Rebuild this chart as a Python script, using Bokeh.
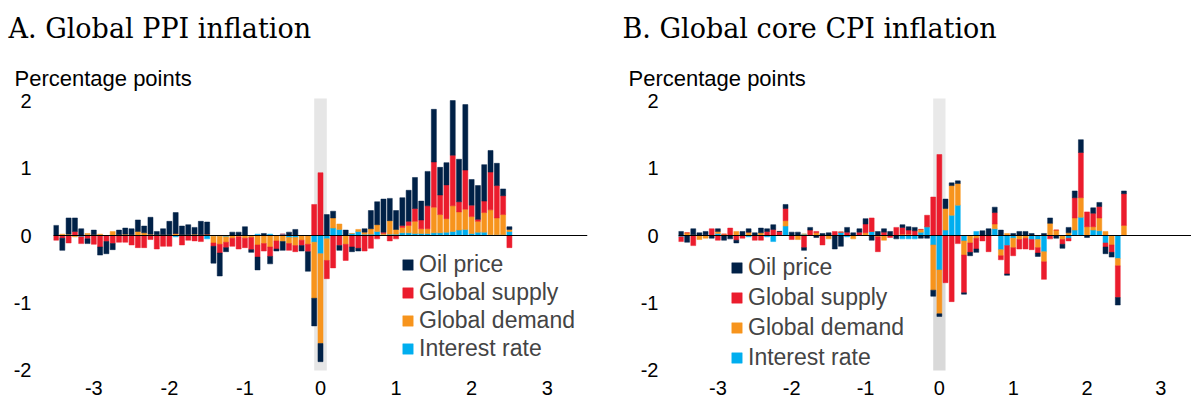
from bokeh.plotting import figure
from bokeh.models import Span, Legend, LegendItem, Title, FixedTicker
from bokeh.layouts import row
from bokeh.embed import file_html
from bokeh.resources import INLINE

months = list(range(-42, 31))
x_ticks = [-3, -2, -1, 0, 1, 2, 3]
y_ticks = [-2, -1, 0, 1, 2]
series_names = ["Oil price", "Global supply", "Global demand", "Interest rate"]

# Panel A: Global PPI inflation (percentage points), months -42..30
ppi_oil = [
    0.15, -0.18, 0.24, 0.20, 0.10, -0.07, 0.07, -0.12, -0.18, -0.09,
    0.07, 0.09, 0.09, 0.17, 0.10, 0.25, 0.05, 0.09, 0.20, 0.31,
    0.13, 0.15, 0.10, 0.20, 0.18, -0.25, -0.34, -0.06, 0.05, 0.05,
    0.13, -0.04, -0.19, 0.03, -0.11, -0.03, -0.13, 0.05, 0.09, -0.08,
    -0.29, -0.41, -0.27, 0.31, 0.10, -0.07, 0.08, -0.07, -0.04, 0.05,
    0.27, 0.34, 0.49, 0.33, 0.28, 0.41, 0.46, 0.46, 0.28, 0.51,
    0.78, 0.41, 0.33, 0.81, 0.63, 0.97, 0.38, 0.50, 0.54, 0.32,
    0.33, 0.10, 0.04]
ppi_supply = [
    -0.07, -0.04, -0.11, 0.06, -0.10, -0.05, -0.13, -0.17, -0.09, -0.12,
    -0.10, -0.10, -0.14, -0.18, -0.18, -0.06, -0.20, -0.16, -0.16, 0.00,
    -0.14, -0.07, -0.08, -0.09, 0.00, -0.05, -0.13, -0.08, -0.12, -0.18,
    -0.14, -0.18, -0.18, -0.11, -0.14, -0.12, 0.00, -0.10, -0.09, -0.08,
    -0.11, 0.46, 0.93, -0.27, -0.48, -0.15, -0.24, -0.17, -0.19, -0.23,
    -0.19, -0.05, 0.02, -0.08, -0.05, 0.03, 0.06, 0.19, 0.13, 0.34,
    0.67, 0.29, 0.50, 0.75, 0.15, 0.58, 0.17, 0.03, 0.17, 0.56,
    0.48, 0.28, -0.18]
ppi_demand = [
    0.00, 0.02, 0.02, -0.02, 0.00, 0.02, 0.01, 0.02, 0.00, 0.06,
    0.01, 0.02, 0.01, 0.06, 0.04, 0.02, 0.01, 0.01, 0.01, 0.03,
    0.01, 0.01, 0.02, 0.01, 0.02, -0.10, -0.12, -0.08, -0.04, -0.02,
    -0.04, -0.03, -0.14, -0.12, -0.17, -0.08, -0.09, -0.09, -0.12, -0.07,
    -0.13, -0.83, -1.33, -0.32, 0.15, 0.08, -0.13, 0.00, 0.03, 0.03,
    0.08, 0.10, 0.02, 0.20, 0.07, 0.08, 0.11, 0.18, 0.07, 0.07,
    0.38, 0.27, 0.20, 0.38, 0.27, 0.30, 0.25, 0.16, 0.29, 0.37,
    0.25, 0.30, 0.03]
ppi_rate = [
    0.00, 0.00, 0.00, 0.00, -0.02, 0.01, 0.00, 0.00, 0.00, 0.00,
    0.00, 0.00, 0.00, 0.00, 0.00, 0.00, 0.00, 0.00, 0.00, -0.02,
    0.00, 0.00, 0.00, 0.00, -0.05, -0.01, -0.01, -0.02, 0.00, 0.00,
    0.00, 0.00, 0.02, 0.00, 0.02, 0.00, 0.02, -0.03, -0.03, 0.00,
    0.00, -0.10, -0.27, -0.05, 0.11, 0.09, 0.00, 0.03, 0.06, 0.02,
    0.02, 0.06, 0.01, 0.02, 0.02, 0.04, 0.04, 0.03, 0.03, 0.03,
    0.04, 0.04, 0.05, 0.06, 0.08, 0.09, 0.03, 0.05, 0.05, 0.01,
    0.01, 0.01, 0.06]

# Panel B: Global core CPI inflation (percentage points), months -42..30
cpi_oil = [
    0.06, -0.10, 0.09, 0.04, 0.05, -0.04, 0.04, -0.07, -0.05, -0.04,
    0.06, 0.05, 0.04, 0.07, 0.04, 0.07, 0.00, 0.06, 0.05, 0.05,
    -0.04, 0.04, -0.03, 0.03, 0.04, -0.20, -0.16, 0.07, 0.04, 0.05,
    0.08, -0.07, 0.06, 0.05, 0.06, -0.05, 0.04, 0.05, 0.05, -0.04,
    -0.04, -0.09, -0.04, 0.14, 0.04, 0.04, -0.02, -0.05, -0.05, 0.07,
    0.10, 0.08, 0.08, -0.02, 0.03, 0.06, 0.06, 0.03, -0.05, 0.03,
    0.08, -0.04, -0.06, 0.08, 0.10, 0.19, -0.03, 0.08, 0.06, -0.10,
    -0.07, -0.11, 0.04]
cpi_supply = [
    -0.07, 0.00, -0.15, 0.00, 0.00, 0.10, -0.07, 0.00, 0.11, -0.07,
    -0.04, 0.00, -0.07, -0.07, 0.06, 0.09, 0.06, 0.18, -0.06, 0.00,
    -0.18, 0.08, 0.02, -0.14, 0.00, 0.06, 0.00, 0.05, 0.00, 0.05,
    0.13, 0.20, -0.22, 0.05, -0.03, 0.12, 0.10, 0.06, 0.07, 0.00,
    0.17, 0.57, 1.20, -0.70, -0.98, -0.12, -0.56, -0.14, -0.16, -0.08,
    -0.24, 0.17, -0.06, -0.42, -0.12, -0.14, -0.16, -0.15, -0.08, -0.26,
    -0.05, 0.00, -0.07, -0.04, 0.30, 0.67, 0.22, 0.20, 0.17, -0.06,
    -0.11, -0.47, 0.47]
cpi_demand = [
    0.00, 0.04, 0.00, -0.06, -0.04, 0.00, 0.03, 0.02, 0.00, 0.06,
    0.00, 0.05, 0.00, 0.04, 0.00, 0.00, 0.00, 0.08, 0.00, -0.06,
    0.00, 0.00, 0.04, 0.00, -0.05, 0.00, 0.00, 0.00, -0.05, 0.00,
    0.04, 0.00, -0.02, -0.07, 0.00, 0.00, 0.02, 0.02, 0.00, 0.04,
    0.00, -0.67, -0.65, 0.32, 0.44, 0.32, -0.21, -0.11, -0.04, 0.00,
    0.00, 0.07, -0.09, 0.03, -0.14, -0.06, -0.04, 0.00, -0.12, -0.15,
    0.18, 0.08, -0.06, 0.04, 0.18, 0.29, 0.13, 0.05, 0.19, 0.06,
    -0.14, -0.11, 0.15]
cpi_rate = [
    -0.02, 0.00, 0.01, 0.00, 0.01, 0.00, 0.03, 0.00, 0.00, 0.00,
    0.00, -0.02, 0.00, 0.00, -0.02, -0.09, 0.00, 0.14, 0.00, 0.00,
    0.02, 0.00, 0.00, 0.00, 0.00, 0.00, 0.05, -0.02, 0.00, 0.00,
    0.00, 0.06, 0.00, 0.00, 0.00, 0.00, -0.05, -0.05, -0.05, 0.05,
    0.13, -0.14, -0.51, 0.08, 0.30, 0.45, -0.08, 0.00, 0.06, 0.00,
    0.00, 0.10, -0.21, -0.15, -0.04, 0.00, 0.00, -0.06, -0.06, -0.24,
    0.00, 0.00, 0.00, -0.04, 0.08, 0.27, 0.00, 0.08, 0.07, -0.11,
    0.00, -0.34, 0.00]

COLORS = {"Oil price": "#002147", "Global supply": "#EB1C2D",
          "Global demand": "#F7941D", "Interest rate": "#00AEEF"}
SANS = "Liberation Sans"


def stack(parts):
    n = len(parts[0])
    pos = [0.0] * n
    neg = [0.0] * n
    out = []
    for vals in parts:
        bots, tops = [], []
        for i, v in enumerate(vals):
            if v >= 0:
                b = pos[i]; t = b + v; pos[i] = t
            else:
                b = neg[i]; t = b + v; neg[i] = t
            bots.append(b); tops.append(t)
        out.append((bots, tops))
    return out


def make_panel(title, oil, supply, demand, rate, width, bl, br, x_end,
               leg_loc, leg_spacing, band, title_off, pp_off, ylab_standoff):
    xs = [m / 12 for m in months]
    p = figure(width=width, height=397, x_range=(-42.4 / 12, x_end),
               y_range=(-2.06, 2.06), output_backend="svg",
               toolbar_location=None, min_border_left=bl, min_border_right=br,
               min_border_bottom=20, min_border_top=0)
    p.title = None
    p.add_layout(Title(text="Percentage points", text_font=SANS,
                       text_font_size="22px", text_font_style="normal",
                       text_color="black",
                       align="left", offset=pp_off, standoff=12), "above")
    p.add_layout(Title(text=title, text_font="DejaVu Serif",
                       text_font_size="27px", text_font_style="normal",
                       text_color="black", vertical_align="top",
                       align="left", offset=title_off, standoff=24), "above")
    p.outline_line_color = None
    p.xgrid.visible = False
    p.ygrid.visible = False
    # highlighted period
    for (b, t, c) in band:
        p.quad(left=-1 / 12, right=1 / 12, bottom=b, top=t, fill_color=c,
               line_color=None)
    p.add_layout(Span(location=0, dimension="width", line_color="black",
                      line_width=1.2))
    stacked = stack([rate, demand, supply, oil])
    names = ["Interest rate", "Global demand", "Global supply", "Oil price"]
    rends = {}
    for name, (bots, tops) in zip(names, stacked):
        r = p.vbar(x=xs, bottom=bots, top=tops, width=0.8 / 12,
                   fill_color=COLORS[name], line_color=COLORS[name],
                   line_width=0.5)
        rends[name] = r
    legend = Legend(items=[LegendItem(label=n, renderers=[rends[n]])
                           for n in series_names],
                    location=leg_loc, orientation="vertical",
                    label_text_font=SANS, label_text_font_size="23px",
                    label_standoff=5, glyph_width=13, glyph_height=13,
                    label_height=20, spacing=leg_spacing, padding=0, margin=0,
                    border_line_color=None, background_fill_alpha=0)
    p.add_layout(legend, "center")
    for ax in (p.xaxis, p.yaxis):
        ax.axis_line_color = None
        ax.major_tick_line_color = None
        ax.minor_tick_line_color = None
        ax.major_label_text_font = SANS
        ax.major_label_text_font_size = "20px"
        ax.major_label_text_color = "black"
    p.xaxis.ticker = FixedTicker(ticks=x_ticks)
    p.yaxis.ticker = FixedTicker(ticks=y_ticks)
    p.xaxis.major_label_overrides = {t: str(t) for t in x_ticks}
    p.yaxis.major_label_overrides = {t: str(t) for t in y_ticks}
    p.xaxis.major_label_standoff = 0
    p.yaxis.major_label_standoff = ylab_standoff
    return p


pa = make_panel("A. Global PPI inflation", ppi_oil, ppi_supply, ppi_demand,
                ppi_rate, 620, 53, 33, 42.4 / 12, (348, 12), 1,
                [(-2.0, 2.03, "#E6E6E6")], -45, -39, 16)
pb = make_panel("B. Global core CPI inflation", cpi_oil, cpi_supply,
                cpi_demand, cpi_rate, 571, 58, 0, 3.415, (52, 3), 3,
                [(0.0, 2.03, "#E9E9E9"), (-2.0, 0.0, "#D9D9D9")], -56, -50, 14)

layout = row(pa, pb)
open("out.html", "w").write(file_html(layout, INLINE))
